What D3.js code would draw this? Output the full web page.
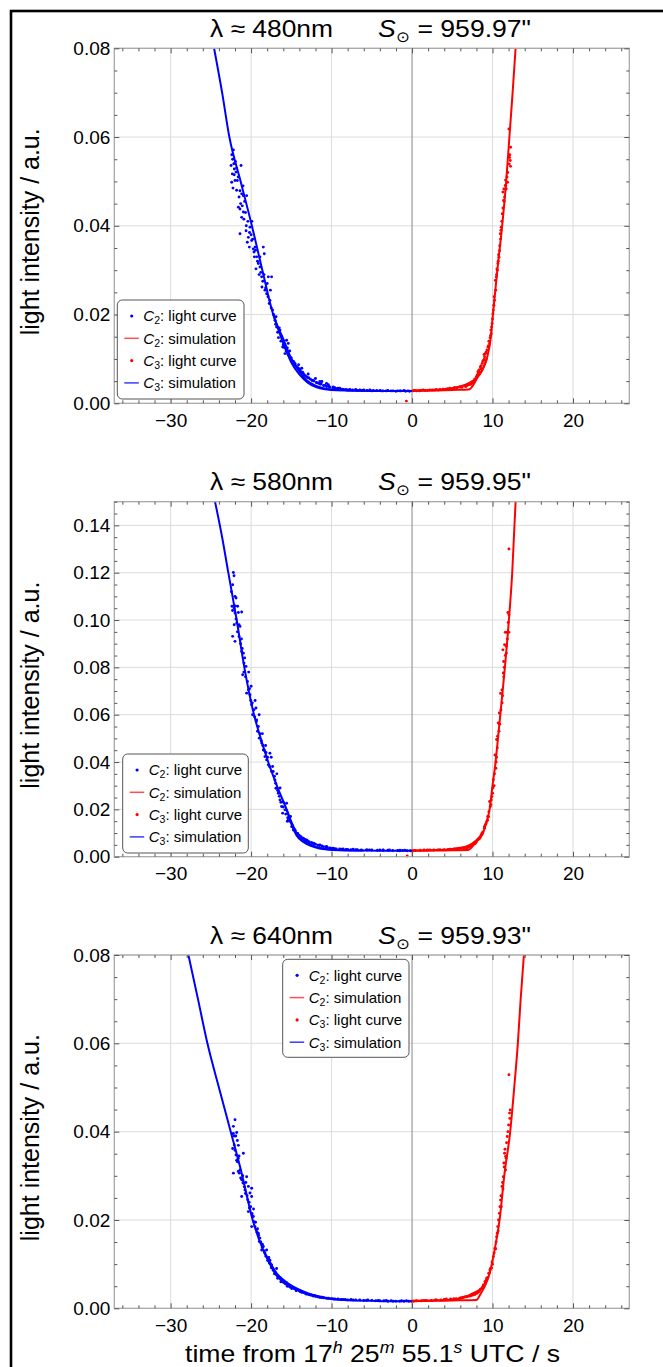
<!DOCTYPE html>
<html>
<head>
<meta charset="utf-8">
<script src="https://cdn.jsdelivr.net/npm/d3@7"></script>
<style>
  body { margin: 0; background: #fff; }
  text { font-family: "Liberation Sans", Arial, Helvetica, sans-serif; fill: #000; }
</style>
</head>
<body>
<svg id="fig" width="663" height="1367"></svg>
<script>
// ---------- shared axis values ----------
const xDomain = [-37, 27];
const xMajorTicks = [-30, -20, -10, 0, 10, 20];
const yMajor480 = [0, 0.02, 0.04, 0.06, 0.08];
const yMajor580 = [0, 0.02, 0.04, 0.06, 0.08, 0.10, 0.12, 0.14];
const yMajor640 = [0, 0.02, 0.04, 0.06, 0.08];
const yMax = [0.08, 0.15, 0.08];
const wavelengths = ["480nm", "580nm", "640nm"];
const sunRadii = ["959.97\"", "959.95\"", "959.93\""];
const legendLabels = [
  { c: "2", text: ": light curve", kind: "dot", color: "#0000ff" },
  { c: "2", text: ": simulation", kind: "line", color: "#ff5050" },
  { c: "3", text: ": light curve", kind: "dot", color: "#ff0000" },
  { c: "3", text: ": simulation", kind: "line", color: "#3a3aff" }
];

// ---------- λ ≈ 480nm ----------
const blueDots480 = [
  [-22.49,0.0536],[-22.41,0.0498],[-22.33,0.0517],[-22.29,0.0550],[-22.2,0.0571],[-22.08,0.0528],[-22.0,0.0502],
  [-21.87,0.0521],[-21.71,0.0502],[-21.58,0.0442],[-21.38,0.0438],[-21.38,0.0479],[-21.38,0.0382],[-21.25,0.0536],
  [-21.17,0.0472],[-20.96,0.0468],[-20.96,0.0431],[-21.17,0.0419],[-20.55,0.0468],[-20.63,0.0389],[-20.47,0.0363],
  [-20.34,0.0374],[-20.14,0.0397],[-19.93,0.0367],[-20.22,0.0352],[-19.72,0.0348],[-19.64,0.0341],[-19.31,0.0330],
  [-19.1,0.0315],[-18.9,0.0307],[-18.48,0.0352],[-18.36,0.0337],[-19.39,0.0303],[-18.69,0.0285],[-18.65,0.0262],
  [-18.28,0.0255],[-18.07,0.0247],[-17.86,0.0285],[-17.45,0.0285],[-17.66,0.0232],[-17.33,0.0210],[-17.03,0.0187],
  [-16.83,0.0172],[-16.41,0.0165],[-16.21,0.0150],[-16.08,0.0127],[-15.59,0.0142],[-15.38,0.0135],[-15.79,0.0112],
  [-15.17,0.0105],[-14.96,0.0097],[-14.55,0.0090],[-14.34,0.0082],[-13.93,0.0075],[-13.52,0.0067],[-13.1,0.0060],
  [-12.28,0.0052],[-11.45,0.0049],[-10.62,0.0045],[-9.8,0.0037],[-8.97,0.0034],[-7.73,0.0031],[-6.49,0.0030],
  [-5.25,0.0030],[-3.6,0.0028],[-2.36,0.0028],[-1.53,0.0028],
  [-14.8,0.0095],[-14.6,0.0088],[-14.2,0.0080],[-13.8,0.0071],[-13.4,0.0064],[-13.0,0.0058],[-12.6,0.0054],
  [-12.2,0.0050],[-11.8,0.0046],[-11.4,0.0043],[-11.0,0.0040],[-10.6,0.0038],[-10.2,0.0036],[-9.8,0.0034],
  [-9.4,0.0033],[-9.0,0.0032],[-8.5,0.0031],[-8.0,0.0030],[-7.4,0.0030],[-6.8,0.0029],[-6.2,0.0029],[-5.6,0.0029],
  [-5.0,0.0028],[-4.4,0.0029],[-3.8,0.0028],[-3.2,0.0028],[-2.6,0.0028],[-2.0,0.0027],[-1.4,0.0028],[-0.8,0.0027],
  [-0.3,0.0027],[-13.7,0.0079],[-12.9,0.0066],[-12.0,0.0056],[-11.2,0.0049],[-10.4,0.0042],[-14.1,0.0087],
  [-15.2,0.0118],[-15.5,0.0125],[-16.5,0.0170],[-16.9,0.0195],[-17.6,0.0255],[-18.0,0.0270],[-18.9,0.0330],
  [-19.5,0.0352],[-19.9,0.0410],[-20.8,0.0455],[-21.0,0.0490],[-22.1,0.0515],[-21.8,0.0530],
  [-22.4,0.0560],[-22.25,0.0485],[-22.15,0.0540],[-21.95,0.0545],[-21.8,0.0480],[-21.6,0.0510],[-21.5,0.0465],
  [-21.3,0.0450],[-21.1,0.0445],[-20.9,0.0415],[-20.7,0.0430],[-20.6,0.0400],[-20.4,0.0410],[-20.2,0.0385],
  [-20.0,0.0380],[-19.8,0.0370],[-19.6,0.0330],[-19.45,0.0345],[-19.2,0.0320],[-19.0,0.0290],[-18.8,0.0295],
  [-18.55,0.0275],[-18.4,0.0290],[-18.2,0.0260],[-17.9,0.0240],[-17.75,0.0225],[-17.5,0.0215],[-17.2,0.0200],
  [-16.95,0.0178],[-16.7,0.0160],[-16.6,0.0148],[-16.3,0.0140],[-16.0,0.0132],[-15.85,0.0125],[-15.65,0.0118],
  [-15.4,0.0110],[-15.0,0.0102],[-14.7,0.0094],[-14.45,0.0085],[-14.0,0.0078],[-13.6,0.0070],[-13.25,0.0062],
  [-12.8,0.0057],[-12.4,0.0051],[-11.9,0.0047],[-11.6,0.0045],[-11.3,0.0044],[-10.8,0.0040],[-10.3,0.0038],
  [-9.6,0.0035],[-9.2,0.0034],[-8.7,0.0032],[-8.2,0.0031],[-7.0,0.0031],[-6.0,0.0030],[-4.8,0.0029],
  [-4.0,0.0029],[-3.0,0.0029],[-1.8,0.0028],[-1.0,0.0029],[-0.5,0.0028]
];
const blueLine480 = [
  [-24.6,0.080],[-23.6,0.070],[-22.7,0.060],[-21.3,0.050],[-19.9,0.040],[-18.6,0.030],[-17.25,0.020],[-16.0,0.0145],
  [-15.0,0.0100],[-14.0,0.0072],[-13.1,0.0052],[-12.0,0.0040],[-11.0,0.0034],[-10.0,0.0031],[-8.0,0.0029],
  [-5.0,0.0028],[-2.0,0.0028],[0.0,0.0028]
];
const blueLine480b = [
  [-17.25,0.020],[-16.0,0.0135],[-15.0,0.0092],[-14.0,0.0065],[-13.0,0.0047],[-12.0,0.0037],[-11.0,0.0032],
  [-10.0,0.0030],[-8.0,0.0029],[-5.0,0.0028]
];
const redDots480 = [
  [12.04,0.0618],[12.25,0.0577],[12.12,0.0554],[12.2,0.0547],[12.08,0.0539],[12.25,0.0534],[11.62,0.0503],
  [11.87,0.0498],[11.59,0.0491],[11.41,0.0483],[11.71,0.0483],[11.29,0.0476],[11.38,0.0457],[11.21,0.0427],
  [11.09,0.0397],[10.97,0.0382],[10.88,0.0344],[10.8,0.0329],[10.67,0.0315],[10.55,0.0303],[10.47,0.0285],
  [10.35,0.0277],[10.26,0.0232],[10.17,0.0221],[10.05,0.0202],[9.89,0.0172],[9.85,0.0157],[9.76,0.0153],
  [9.64,0.0135],[9.43,0.0127],[9.31,0.0120],[9.14,0.0112],[9.02,0.0105],[8.9,0.0097],[8.73,0.0090],[8.49,0.0082],
  [8.31,0.0075],[8.19,0.0071],[7.99,0.0060],[7.78,0.0052],[7.57,0.0049],[7.37,0.0045],[6.95,0.0041],[6.54,0.0039],
  [5.92,0.0037],[5.3,0.0036],[4.68,0.0034],[3.85,0.0032],[3.02,0.0031],[2.2,0.0030],[1.36,0.0030],[0.55,0.0028],
  [0.14,0.0028],[0.3,0.0029],[0.9,0.0028],[1.6,0.0029],[2.5,0.0030],[3.3,0.0030],[4.0,0.0031],[4.4,0.0033],
  [5.0,0.0033],[5.6,0.0035],[6.2,0.0036],[6.7,0.0038],[7.1,0.0042],[7.5,0.0047],[7.8,0.0055],[8.1,0.0064],
  [8.4,0.0070],[8.6,0.0085],[9.0,0.0100],[9.2,0.0115],[9.5,0.0130],[9.7,0.0148],[9.95,0.0180],[10.1,0.0210],
  [10.4,0.0255],[10.6,0.0300],[10.75,0.0335],[11.0,0.0370],[11.15,0.0410],[11.5,0.0465],[11.8,0.0510],
  [-0.7,0.0005],
  [9.55,0.0140],[9.8,0.0165],[10.0,0.0190],[10.2,0.0240],[10.5,0.0290],[10.7,0.0320],[10.9,0.0355],[11.05,0.0390],
  [11.3,0.0440],[11.45,0.0455],[11.65,0.0490],[11.9,0.0520],[12.15,0.0560],[8.95,0.0110],[8.8,0.0095],[8.55,0.0078],
  [8.25,0.0068],[7.7,0.0050],[7.3,0.0043],[6.8,0.0040],[6.0,0.0037],[5.2,0.0034],[4.2,0.0032],[3.5,0.0031],
  [2.8,0.0030],[1.9,0.0029],[1.1,0.0029]
];
const redLine480 = [
  [0,0.0028],[3,0.0029],[5,0.0030],[7.05,0.0031],[8.2,0.0060],[8.7,0.0075],[9.3,0.0101],[9.8,0.0150],
  [10.05,0.020],[10.6,0.030],[11.2,0.040],[11.7,0.050],[12.1,0.060],[12.5,0.070],[12.87,0.080]
];
const redLine480b = [
  [0,0.0029],[3,0.0030],[5,0.0034],[6,0.0038],[7,0.0045],[8,0.0057],[8.7,0.0073],[9.3,0.0101]
];

// ---------- λ ≈ 580nm ----------
const blueDots580 = [
  [-22.2,0.1201],[-22.12,0.1187],[-22.29,0.1149],[-22.37,0.1058],[-22.12,0.1051],[-22.0,0.1030],[-21.87,0.1093],
  [-21.67,0.1058],[-21.58,0.1032],[-21.87,0.1004],[-21.79,0.0987],[-21.38,0.0973],[-21.17,0.1034],[-22.29,0.0931],
  [-22.0,0.0910],[-21.17,0.0867],[-20.96,0.0860],[-20.88,0.0818],[-20.63,0.0804],[-21.05,0.0769],[-20.55,0.0691],
  [-20.34,0.0705],[-20.14,0.0684],[-19.93,0.0642],[-19.64,0.0621],[-19.81,0.0600],[-19.39,0.0628],[-19.31,0.0578],
  [-19.1,0.0550],[-18.98,0.0501],[-18.69,0.0480],[-18.48,0.0451],[-18.28,0.0423],[-18.07,0.0409],[-17.86,0.0388],
  [-17.66,0.0437],[-17.33,0.0381],[-17.25,0.0360],[-17.03,0.0324],[-16.91,0.0289],[-16.62,0.0268],[-16.41,0.0240],
  [-16.21,0.0212],[-16.08,0.0184],[-15.79,0.0198],[-15.59,0.0226],[-15.38,0.0155],[-14.96,0.0127],[-14.75,0.0113],
  [-14.34,0.0099],[-13.72,0.0078],[-13.1,0.0071],[-12.28,0.0057],[-11.45,0.0050],[-10.62,0.0043],[-9.8,0.0036],
  [-8.56,0.0033],[-7.32,0.0032],[-5.66,0.0029],[-3.6,0.0028],[-1.53,0.0025],
  [-14.5,0.0110],[-14.0,0.0090],[-13.5,0.0078],[-13.0,0.0068],[-12.5,0.0060],[-12.0,0.0053],[-11.5,0.0047],
  [-11.0,0.0042],[-10.5,0.0038],[-10.0,0.0035],[-9.4,0.0033],[-8.8,0.0032],[-8.2,0.0031],[-7.6,0.0030],
  [-7.0,0.0030],[-6.3,0.0029],[-5.6,0.0028],[-5.0,0.0028],[-4.3,0.0027],[-3.6,0.0027],[-3.0,0.0027],
  [-2.4,0.0026],[-1.8,0.0026],[-1.2,0.0026],[-0.6,0.0025],[-0.2,0.0025],[-15.1,0.0170],[-15.5,0.0150],
  [-16.0,0.0230],[-16.4,0.0290],[-16.8,0.0350],[-17.5,0.0420],[-18.2,0.0470],[-18.6,0.0520],[-19.0,0.0600],
  [-19.5,0.0660],[-20.0,0.0720],[-20.3,0.0780],[-20.8,0.0840],[-21.2,0.0920],[-21.5,0.0980],[-22.0,0.1100],
  [-22.45,0.1120],[-22.3,0.1040],[-22.1,0.0980],[-21.95,0.1060],[-21.7,0.0950],[-21.5,0.0930],[-21.3,0.0900],
  [-21.1,0.0880],[-20.9,0.0780],[-20.7,0.0760],[-20.45,0.0740],[-20.2,0.0710],[-20.05,0.0660],[-19.85,0.0650],
  [-19.55,0.0590],[-19.35,0.0570],[-19.2,0.0530],[-18.9,0.0520],[-18.75,0.0490],[-18.55,0.0470],[-18.35,0.0450],
  [-18.15,0.0440],[-17.95,0.0420],[-17.7,0.0380],[-17.45,0.0360],[-17.1,0.0340],[-16.95,0.0310],[-16.7,0.0280],
  [-16.5,0.0255],[-16.3,0.0230],[-16.0,0.0210],[-15.7,0.0180],[-15.45,0.0165],[-15.2,0.0150],[-14.85,0.0130],
  [-14.6,0.0115],[-14.2,0.0098],[-13.8,0.0085],[-13.3,0.0073],[-12.8,0.0063],[-12.2,0.0056],[-11.7,0.0049],
  [-11.2,0.0045],[-10.7,0.0041],[-10.2,0.0037],[-9.6,0.0034],[-9.0,0.0033],[-8.0,0.0031],[-6.8,0.0030],
  [-5.3,0.0029],[-4.0,0.0028],[-2.8,0.0028],[-1.5,0.0027],[-0.9,0.0027]
];
const blueLine580 = [
  [-24.48,0.150],[-23.6,0.135],[-22.83,0.120],[-21.79,0.100],[-20.84,0.080],[-19.64,0.060],[-18.8,0.050],
  [-17.87,0.040],[-16.8,0.030],[-15.59,0.020],[-14.9,0.014],[-14.35,0.0099],[-13.5,0.0070],[-12.5,0.0050],
  [-11.5,0.0038],[-10.5,0.0031],[-9,0.0028],[-6,0.0026],[-3,0.0025],[0,0.0025]
];
const blueLine580b = [
  [-15.59,0.020],[-14.9,0.0130],[-14.35,0.0090],[-13.5,0.0062],[-12.5,0.0045],[-11.5,0.0035],[-10.5,0.0030],
  [-9,0.0027],[-6,0.0026]
];
const redDots580 = [
  [12.04,0.1300],[11.91,0.1032],[12.04,0.1022],[11.58,0.0948],[11.79,0.0948],[12.04,0.0948],[11.5,0.0896],
  [11.71,0.0889],[11.29,0.0874],[11.71,0.0860],[11.38,0.0825],[11.34,0.0776],[11.17,0.0705],[11.0,0.0690],
  [10.84,0.0607],[10.71,0.0565],[10.63,0.0509],[10.51,0.0495],[10.3,0.0430],[10.42,0.0374],[10.1,0.0325],
  [10.01,0.0268],[9.93,0.0254],[9.64,0.0233],[9.72,0.0212],[9.51,0.0169],[9.39,0.0155],[9.1,0.0134],[8.98,0.0127],
  [8.7,0.0099],[8.41,0.0078],[8.16,0.0071],[7.87,0.0057],[7.45,0.0046],[6.92,0.0039],[6.22,0.0036],[5.6,0.0033],
  [4.77,0.0032],[3.44,0.0030],[2.2,0.0029],[1.0,0.0027],[0.14,0.0025],
  [0.4,0.0026],[1.5,0.0028],[2.7,0.0028],[4.0,0.0030],[5.0,0.0031],[5.8,0.0034],[6.5,0.0036],[7.1,0.0041],
  [7.6,0.0050],[8.0,0.0062],[8.5,0.0085],[8.8,0.0105],[9.2,0.0140],[9.4,0.0170],[9.8,0.0220],[10.2,0.0300],
  [10.5,0.0420],[10.9,0.0560],[11.2,0.0650],[11.4,0.0760],[-0.6,0.0003],
  [9.0,0.0120],[9.3,0.0150],[9.55,0.0190],[9.85,0.0240],[10.05,0.0290],[10.25,0.0350],[10.45,0.0400],[10.6,0.0460],
  [10.8,0.0530],[11.05,0.0620],[11.25,0.0680],[11.45,0.0800],[11.6,0.0850],[11.85,0.0920],[11.95,0.0990],
  [8.6,0.0092],[8.3,0.0075],[7.8,0.0055],[7.3,0.0045],[6.8,0.0038],[6.0,0.0035],[5.3,0.0033],[4.5,0.0031],
  [3.2,0.0029],[1.9,0.0028]
];
const redLine580 = [
  [0,0.0025],[3,0.0026],[5,0.0027],[6.95,0.0028],[8.0,0.0065],[8.81,0.0099],[9.2,0.0140],[9.64,0.020],
  [10.0,0.030],[10.38,0.040],[10.68,0.050],[10.97,0.060],[11.26,0.070],[11.54,0.080],[11.8,0.090],[12.04,0.100],
  [12.45,0.120],[12.87,0.150]
];
const redLine580b = [
  [0,0.0026],[3,0.0028],[5,0.0033],[6,0.0038],[7,0.0047],[8,0.0070],[8.81,0.0099]
];

// ---------- λ ≈ 640nm ----------
const blueDots640 = [
  [-22.0,0.0427],[-22.2,0.0412],[-21.79,0.0398],[-22.2,0.0396],[-21.71,0.0380],[-22.29,0.0362],[-22.0,0.0358],
  [-21.58,0.0369],[-21.87,0.0347],[-21.71,0.0332],[-21.38,0.0313],[-22.2,0.0306],[-21.46,0.0306],[-20.96,0.0351],
  [-21.17,0.0291],[-20.96,0.0283],[-21.17,0.0253],[-20.76,0.0268],[-20.55,0.0298],[-20.34,0.0276],[-20.14,0.0261],
  [-20.43,0.0246],[-19.93,0.0272],[-19.93,0.0253],[-20.22,0.0227],[-20.34,0.0219],[-19.72,0.0208],[-19.64,0.0196],
  [-19.93,0.0185],[-19.52,0.0185],[-19.31,0.0178],[-19.1,0.0170],[-18.9,0.0159],[-18.98,0.0151],[-18.48,0.0140],
  [-18.69,0.0132],[-18.28,0.0125],[-18.07,0.0132],[-17.86,0.0113],[-17.66,0.0109],[-17.45,0.0098],[-17.25,0.0086],
  [-17.03,0.0083],[-16.83,0.0090],[-16.62,0.0072],[-16.21,0.0064],[-15.79,0.0057],[-15.38,0.0053],[-14.96,0.0045],
  [-14.34,0.0042],[-13.93,0.0038],[-13.1,0.0032],[-12.28,0.0028],[-11.45,0.0025],[-10.62,0.0023],[-9.8,0.0021],
  [-8.56,0.0020],[-7.32,0.0019],[-5.66,0.0018],[-4.0,0.0017],[-2.36,0.0016],[-1.53,0.0016],
  [-14.6,0.0044],[-14.0,0.0040],[-13.4,0.0035],[-12.8,0.0031],[-12.0,0.0028],[-11.2,0.0025],[-10.4,0.0023],
  [-9.6,0.0021],[-8.8,0.0020],[-8.0,0.0019],[-7.0,0.0019],[-6.0,0.0018],[-5.0,0.0018],[-4.5,0.0017],[-3.5,0.0017],
  [-3.0,0.0016],[-2.0,0.0016],[-1.0,0.0016],[-0.4,0.0016],[-15.6,0.0058],[-16.4,0.0070],[-17.8,0.0115],
  [-18.6,0.0145],[-19.2,0.0180],[-19.9,0.0215],[-20.7,0.0260],[-21.0,0.0285],[-21.6,0.0340],[-22.1,0.0390],
  [-22.35,0.0395],[-22.1,0.0370],[-21.9,0.0390],[-21.8,0.0335],[-21.6,0.0310],[-21.5,0.0345],[-21.3,0.0295],
  [-21.05,0.0300],[-20.85,0.0275],[-20.65,0.0285],[-20.5,0.0255],[-20.25,0.0240],[-20.05,0.0230],[-19.85,0.0210],
  [-19.7,0.0225],[-19.45,0.0195],[-19.25,0.0172],[-19.05,0.0165],[-18.8,0.0150],[-18.6,0.0138],[-18.35,0.0130],
  [-18.15,0.0118],[-17.95,0.0108],[-17.7,0.0102],[-17.5,0.0092],[-17.3,0.0090],[-17.1,0.0078],[-16.9,0.0077],
  [-16.7,0.0068],[-16.5,0.0069],[-16.3,0.0060],[-16.0,0.0059],[-15.7,0.0055],[-15.5,0.0050],[-15.2,0.0048],
  [-14.8,0.0046],[-14.4,0.0040],[-13.7,0.0036],[-13.2,0.0033],[-12.6,0.0030],[-12.2,0.0029],[-11.7,0.0026],
  [-11.0,0.0024],[-10.0,0.0022],[-9.2,0.0021],[-8.3,0.0020],[-7.6,0.0020],[-6.5,0.0019],[-5.5,0.0019],
  [-4.2,0.0018],[-3.2,0.0018],[-2.6,0.0017],[-1.3,0.0017],[-0.7,0.0017]
];
const blueLine640 = [
  [-27.79,0.080],[-26.6,0.070],[-25.43,0.060],[-24.0,0.050],[-22.53,0.040],[-21.17,0.0306],[-19.8,0.020],
  [-18.49,0.0132],[-17.6,0.0103],[-16.83,0.0079],[-15.8,0.0062],[-14.76,0.0049],[-13.5,0.0038],[-12.28,0.0030],
  [-10.5,0.0023],[-8.5,0.0019],[-5,0.0017],[-2,0.0016],[0,0.0016]
];
const blueLine640b = [
  [-18.49,0.0132],[-17.6,0.0098],[-16.83,0.0074],[-15.8,0.0057],[-14.76,0.0045],[-13.5,0.0035],[-12.28,0.0028],
  [-10.5,0.0022],[-8.5,0.0019]
];
const redDots640 = [
  [12.04,0.0529],[12.2,0.0449],[12.12,0.0442],[11.91,0.0400],[11.83,0.0389],[11.5,0.0351],[11.62,0.0344],
  [11.41,0.0329],[11.62,0.0313],[11.34,0.0298],[11.17,0.0276],[11.0,0.0245],[10.92,0.0230],[10.75,0.0200],
  [10.59,0.0170],[10.51,0.0162],[10.3,0.0136],[10.1,0.0117],[9.89,0.0091],[9.68,0.0087],[9.52,0.0079],
  [9.27,0.0068],[9.06,0.0060],[8.86,0.0053],[8.66,0.0045],[8.4,0.0040],[8.07,0.0034],[7.57,0.0030],[6.95,0.0027],
  [6.33,0.0025],[5.5,0.0022],[4.26,0.0021],[3.02,0.0019],[1.78,0.0018],[0.55,0.0017],[-0.07,0.0016],
  [0.2,0.0016],[1.2,0.0017],[2.4,0.0018],[3.6,0.0019],[4.8,0.0021],[5.9,0.0023],[6.6,0.0026],[7.2,0.0028],
  [7.8,0.0031],[8.2,0.0036],[8.5,0.0043],[8.9,0.0050],[9.2,0.0063],[9.6,0.0080],[10.0,0.0100],[10.4,0.0135],
  [10.7,0.0175],[11.1,0.0230],[11.3,0.0270],[11.7,0.0340],
  [9.4,0.0070],[9.75,0.0090],[9.95,0.0105],[10.2,0.0125],[10.45,0.0150],[10.65,0.0185],[10.85,0.0215],
  [11.05,0.0255],[11.25,0.0285],[11.45,0.0320],[11.55,0.0360],[11.75,0.0375],[12.0,0.0415],[12.15,0.0430],
  [9.1,0.0057],[8.75,0.0048],[8.3,0.0038],[7.9,0.0033],[7.4,0.0029],[6.8,0.0026],[6.1,0.0024],[5.2,0.0022],
  [4.0,0.0020],[2.9,0.0019],[1.5,0.0018]
];
const redLine640 = [
  [0,0.0016],[3,0.0017],[6,0.0018],[7.99,0.0019],[8.5,0.0032],[9.02,0.0049],[9.64,0.0079],[10.26,0.0132],
  [10.88,0.020],[11.5,0.0306],[12.2,0.040],[12.7,0.050],[13.15,0.060],[13.5,0.070],[13.9,0.080]
];
const redLine640b = [
  [0,0.0017],[3,0.0018],[5,0.0020],[6.33,0.0023],[7.36,0.0032],[8.4,0.0042],[9.02,0.0050]
];

// ---------- layout ----------
const plotLeft = 114.3, plotRight = 629.3;
const panelTops = [48.3, 501.7, 955.0];
const panelBottoms = [403.3, 856.7, 1308.3];
const yMajors = [yMajor480, yMajor580, yMajor640];
const legendBoxes = [[117.3, 300, 126.7, 99], [122.7, 754, 125.6, 99], [282.7, 959.3, 126.3, 98]];
const blueDotSets = [blueDots480, blueDots580, blueDots640];
const blueLineSets = [[blueLine480, blueLine480b], [blueLine580, blueLine580b], [blueLine640, blueLine640b]];
const redDotSets = [redDots480, redDots580, redDots640];
const redLineSets = [[redLine480, redLine480b], [redLine580, redLine580b], [redLine640, redLine640b]];

const svg = d3.select("#fig");

// outer figure border (only the top and left edges fall inside the canvas)
svg.append("rect")
  .attr("x", 11).attr("y", 11).attr("width", 700).attr("height", 1400)
  .attr("fill", "none").attr("stroke", "#000").attr("stroke-width", 2.6);

const x = d3.scaleLinear().domain(xDomain).range([plotLeft, plotRight]);
const xMinor = d3.range(-36, 27, 2).filter(v => v % 10 !== 0);
const fmtX = d3.format("d");
const fmtY = d3.format(".2f");

function drawPanel(i) {
  const top = panelTops[i], bottom = panelBottoms[i];
  const y = d3.scaleLinear().domain([0, yMax[i]]).range([bottom, top]);
  const yMaj = yMajors[i];
  const yMin = d3.range(0, yMax[i] + 1e-9, 0.005)
    .filter(v => !yMaj.some(m => Math.abs(m - v) < 1e-9));
  const g = svg.append("g");

  // grid
  g.append("g").selectAll("line").data(xMajorTicks.filter(d => d !== 0)).join("line")
    .attr("x1", d => x(d)).attr("x2", d => x(d)).attr("y1", top).attr("y2", bottom)
    .attr("stroke", "#dcdcdc").attr("stroke-width", 1);
  g.append("g").selectAll("line").data(yMaj.filter(d => d !== 0)).join("line")
    .attr("x1", plotLeft).attr("x2", plotRight).attr("y1", d => y(d)).attr("y2", d => y(d))
    .attr("stroke", "#dcdcdc").attr("stroke-width", 1);

  // vertical axis through t = 0
  g.append("line")
    .attr("x1", x(0)).attr("x2", x(0)).attr("y1", top).attr("y2", bottom)
    .attr("stroke", "#9a9a9a").attr("stroke-width", 1.2);

  // data, clipped to the plot frame
  const clipId = "clip" + i;
  svg.append("defs").append("clipPath").attr("id", clipId)
    .append("rect").attr("x", plotLeft).attr("y", top - 1)
    .attr("width", plotRight - plotLeft).attr("height", bottom - top + 4);
  const data = g.append("g").attr("clip-path", `url(#${clipId})`);
  const line = d3.line().x(d => x(d[0])).y(d => y(d[1])).curve(d3.curveMonotoneX);

  data.selectAll("circle.b").data(blueDotSets[i]).join("circle")
    .attr("class", "b").attr("cx", d => x(d[0])).attr("cy", d => y(d[1])).attr("r", 1.45)
    .attr("fill", "#0000ff");
  data.selectAll("circle.r").data(redDotSets[i]).join("circle")
    .attr("class", "r").attr("cx", d => x(d[0])).attr("cy", d => y(d[1])).attr("r", 1.45)
    .attr("fill", "#ff0000");
  blueLineSets[i].forEach(s => data.append("path").attr("d", line(s))
    .attr("fill", "none").attr("stroke", "#0000ff").attr("stroke-width", 2));
  redLineSets[i].forEach(s => data.append("path").attr("d", line(s))
    .attr("fill", "none").attr("stroke", "#ff0000").attr("stroke-width", 2));

  // frame
  g.append("rect").attr("x", plotLeft).attr("y", top)
    .attr("width", plotRight - plotLeft).attr("height", bottom - top)
    .attr("fill", "none").attr("stroke", "#a8a8a8").attr("stroke-width", 1.3);

  // inward ticks on all four sides
  const tickStyle = sel => {
    sel.select(".domain").remove();
    sel.selectAll(".tick line").attr("stroke", "#555").attr("stroke-width", 1);
    sel.selectAll(".tick text").attr("font-size", 19)
      .attr("font-family", "'Liberation Sans', Arial, sans-serif").attr("fill", "#000");
  };
  g.append("g").attr("transform", `translate(0,${bottom})`)
    .call(d3.axisBottom(x).tickValues(xMajorTicks).tickSizeInner(-5).tickSizeOuter(0)
      .tickPadding(10).tickFormat(fmtX)).call(tickStyle);
  g.append("g").attr("transform", `translate(0,${bottom})`)
    .call(d3.axisBottom(x).tickValues(xMinor).tickSizeInner(-3).tickSizeOuter(0).tickFormat(""))
    .call(tickStyle);
  g.append("g").attr("transform", `translate(0,${top})`)
    .call(d3.axisTop(x).tickValues(xMajorTicks).tickSizeInner(-5).tickSizeOuter(0).tickFormat(""))
    .call(tickStyle);
  g.append("g").attr("transform", `translate(0,${top})`)
    .call(d3.axisTop(x).tickValues(xMinor).tickSizeInner(-3).tickSizeOuter(0).tickFormat(""))
    .call(tickStyle);
  g.append("g").attr("transform", `translate(${plotLeft},0)`)
    .call(d3.axisLeft(y).tickValues(yMaj).tickSizeInner(-5).tickSizeOuter(0)
      .tickPadding(4).tickFormat(fmtY)).call(tickStyle);
  g.append("g").attr("transform", `translate(${plotLeft},0)`)
    .call(d3.axisLeft(y).tickValues(yMin).tickSizeInner(-3).tickSizeOuter(0).tickFormat(""))
    .call(tickStyle);
  g.append("g").attr("transform", `translate(${plotRight},0)`)
    .call(d3.axisRight(y).tickValues(yMaj).tickSizeInner(-5).tickSizeOuter(0).tickFormat(""))
    .call(tickStyle);
  g.append("g").attr("transform", `translate(${plotRight},0)`)
    .call(d3.axisRight(y).tickValues(yMin).tickSizeInner(-3).tickSizeOuter(0).tickFormat(""))
    .call(tickStyle);

  // title
  const ty = top - 11.5;
  g.append("text").attr("x", 210).attr("y", ty).attr("font-size", 24)
    .attr("textLength", 123).attr("lengthAdjust", "spacingAndGlyphs")
    .text("λ ≈ " + wavelengths[i]);
  const t2 = g.append("text").attr("x", 378).attr("y", ty).attr("font-size", 24)
    .attr("textLength", 153).attr("lengthAdjust", "spacingAndGlyphs");
  t2.append("tspan").attr("font-style", "italic").text("S");
  t2.append("tspan").attr("font-size", 15).attr("dy", 5).text("⊙");
  t2.append("tspan").attr("dy", -5).text(" = " + sunRadii[i]);

  // y-axis label
  g.append("text")
    .attr("transform", `translate(39,${(top + bottom) / 2 + 6}) rotate(-90)`)
    .attr("text-anchor", "middle").attr("font-size", 25)
    .text("light intensity / a.u.");

  // legend
  const [lx, ly, lw, lh] = legendBoxes[i];
  const lg = g.append("g");
  lg.append("rect").attr("x", lx).attr("y", ly).attr("width", lw).attr("height", lh)
    .attr("rx", 5).attr("fill", "#fff").attr("stroke", "#555").attr("stroke-width", 1);
  legendLabels.forEach((e, k) => {
    const cy = ly + 16 + k * 22.3;
    if (e.kind === "dot") {
      lg.append("circle").attr("cx", lx + 14.4).attr("cy", cy).attr("r", 1.6).attr("fill", e.color);
    } else {
      lg.append("line").attr("x1", lx + 7).attr("x2", lx + 21.5).attr("y1", cy).attr("y2", cy)
        .attr("stroke", e.color).attr("stroke-width", 1.5);
    }
    const t = lg.append("text").attr("x", lx + 26).attr("y", cy + 5.3).attr("font-size", 15);
    t.append("tspan").attr("font-style", "italic").text("C");
    t.append("tspan").attr("font-size", 10.5).attr("dy", 3).text(e.c);
    t.append("tspan").attr("dy", -3).text(e.text);
  });
}

[0, 1, 2].forEach(drawPanel);

// x-axis label under the last panel
const xl = svg.append("text").attr("x", 185).attr("y", 1362).attr("font-size", 24)
  .attr("textLength", 375).attr("lengthAdjust", "spacingAndGlyphs");
xl.append("tspan").text("time from 17");
xl.append("tspan").attr("font-size", 16).attr("font-style", "italic").attr("dy", -9).text("h");
xl.append("tspan").attr("dy", 9).text(" 25");
xl.append("tspan").attr("font-size", 16).attr("font-style", "italic").attr("dy", -9).text("m");
xl.append("tspan").attr("dy", 9).text(" 55.1");
xl.append("tspan").attr("font-size", 16).attr("font-style", "italic").attr("dy", -9).text("s");
xl.append("tspan").attr("dy", 9).text(" UTC / s");
</script>
</body>
</html>
